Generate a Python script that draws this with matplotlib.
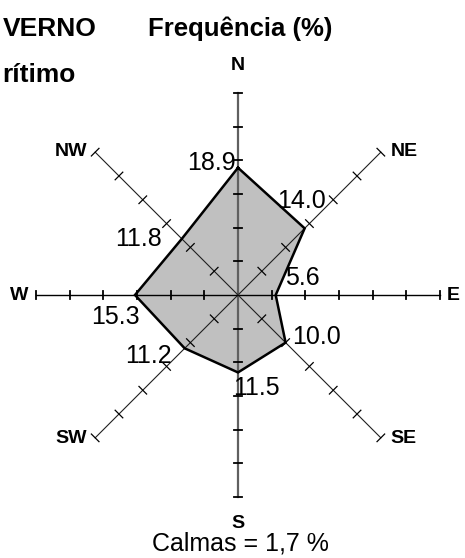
import numpy as np
import matplotlib.pyplot as plt

plt.rcParams['font.family'] = ['Liberation Sans', 'DejaVu Sans']

# wind directions and frequencies (%)
directions = ['N', 'NE', 'E', 'SE', 'S', 'SW', 'W', 'NW']
frequencies = [18.9, 14.0, 5.6, 10.0, 11.5, 11.2, 15.3, 11.8]
tick_values = [5, 10, 15, 20, 25, 30]
calmas = '1,7'

r_max = 30
angles = np.deg2rad(np.arange(0, 360, 45))  # compass angles, clockwise from N

# figure in pixel-like units: center at (238, 295) from top-left, 202 px = 30 %
W_px, H_px = 465, 558
cx, cy = 238, 295
scale = 202 / r_max

fig = plt.figure(figsize=(W_px / 100, H_px / 100), dpi=100)
ax = fig.add_axes([0, 0, 1, 1])
ax.set_xlim(-cx / scale, (W_px - cx) / scale)
ax.set_ylim(-(H_px - cy) / scale, cy / scale)
ax.set_aspect('equal')
ax.axis('off')

# polygon of frequencies
xs = np.array(frequencies) * np.sin(angles)
ys = np.array(frequencies) * np.cos(angles)
ax.fill(xs, ys, facecolor='#c0c0c0', edgecolor='none', zorder=1)

# axes with tick marks
for i, a in enumerate(angles):
    ux, uy = np.sin(a), np.cos(a)
    px, py = -uy, ux
    if i in (0, 4):
        color, lw = '#606060', 1.6
    elif i in (2, 6):
        color, lw = 'black', 1.0
    else:
        color, lw = '#202020', 0.8
    ax.plot([0, r_max * ux], [0, r_max * uy], color=color, lw=lw, zorder=2)
    h = 0.6 if i % 2 == 0 else 0.8
    for t in tick_values:
        ax.plot([t * ux - h * px, t * ux + h * px],
                [t * uy - h * py, t * uy + h * py],
                color='black', lw=1.3 if i % 2 == 0 else 0.9, zorder=2)

ax.plot(np.append(xs, xs[0]), np.append(ys, ys[0]), color='black', lw=1.8,
        solid_joinstyle='miter', zorder=3)

# value labels (offsets in pixels from each vertex)
label_offsets = [(-27, 5), (-3, 27), (27, 17), (31, 6),
                 (18, -16), (-36, -8), (-20, -22), (-43, 0)]
for x, y, v, off in zip(xs, ys, frequencies, label_offsets):
    ax.annotate(f'{v:.1f}', xy=(x, y), xytext=off, textcoords='offset pixels',
                ha='center', va='center', fontsize=18, zorder=4)

# direction labels
dir_offsets = [(0, 27), (10, 1), (7, 0), (10, -1),
               (0, -26), (-8, -1), (-8, 0), (-8, 1)]
dir_ha = ['center', 'left', 'left', 'left', 'center', 'right', 'right', 'right']
for d, a, off, ha in zip(directions, angles, dir_offsets, dir_ha):
    ax.annotate(d, xy=(r_max * np.sin(a), r_max * np.cos(a)), xytext=off,
                textcoords='offset pixels', ha=ha, va='center',
                fontsize=14, fontweight='bold')

# titles
fig.text(97 / W_px, 1 - 36 / H_px, 'VERNO', ha='right', va='baseline',
         fontsize=19, fontweight='bold')
fig.text(76 / W_px, 1 - 82 / H_px, 'rítimo', ha='right', va='baseline',
         fontsize=19, fontweight='bold')
fig.text(240 / W_px, 1 - 36 / H_px, 'Frequência (%)', ha='center', va='baseline',
         fontsize=18.5, fontweight='bold')
fig.text(240 / W_px, 1 - 551 / H_px, f'Calmas = {calmas} %', ha='center',
         va='baseline', fontsize=18)

fig.savefig('out.png', dpi=100)
